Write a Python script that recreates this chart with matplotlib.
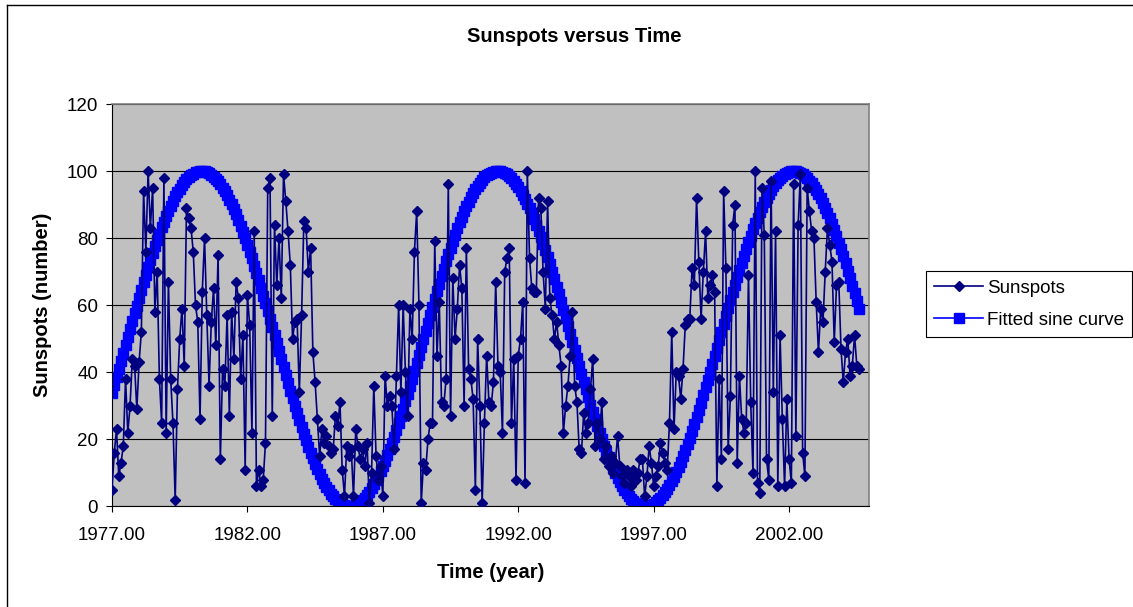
import numpy as np
import matplotlib.pyplot as plt
from matplotlib.lines import Line2D

# monthly sunspot readings starting Jan 1977
start_year = 1977.0
sunspots_1977 = [5, 16, 23, 9, 13, 18, 38, 22, 30, 44, 42, 29, 43, 52, 94, 76, 100, 83,
                 95, 58, 70, 38, 25, 98, 22, 67, 38, 25, 2, 35, 50, 59, 42, 89, 86, 83,
                 76, 60, 55, 26, 64, 80, 57, 36, 55, 65, 48, 75, 14, 41, 36, 57, 27, 58,
                 44, 67, 62, 38, 51, 11, 63, 54, 22, 82, 6]
sunspots_1982 = [11, 6, 8, 19, 95, 98, 27, 84, 66, 80, 62, 99, 91, 82, 72, 50, 55, 56,
                 34, 57, 85, 83, 70, 77, 46, 37, 26, 15, 23, 19, 21, 18, 16, 17, 27, 24,
                 31, 11, 3, 18, 15, 17, 3, 23, 18, 14, 17, 12, 19, 1, 10, 36, 15, 8, 12,
                 3, 39, 30, 33, 30, 17, 39, 60, 34]
sunspots_1987 = [60, 40, 27, 59, 50, 76, 88, 60, 1, 13, 11, 20, 25, 25, 79, 45, 61, 31,
                 30, 38, 96, 27, 68, 50, 59, 72, 65, 30, 77, 41, 38, 32, 5, 50, 30, 1,
                 25, 45, 31, 30, 37, 67, 42, 40, 22, 70, 74, 77, 25, 44, 8, 45, 50, 61,
                 7, 100, 74, 65, 64, 64, 92, 89, 70, 59, 91, 62]
sunspots_1993 = [57, 50, 55, 48, 42, 22, 30, 36, 45, 58, 36, 31, 17, 16, 28, 22, 25, 35,
                 44, 18, 25, 20, 31, 14, 18, 12, 15, 10, 13, 21, 12, 9, 7, 11, 9, 6, 11,
                 8, 10, 14, 14, 3, 9, 18, 13, 6, 9, 12, 19, 16, 13, 11, 25, 52, 23, 40,
                 39, 32, 41, 54, 56, 56, 71, 66, 92, 73]
sunspots_1998 = [56, 70, 82, 62, 66, 69, 64, 6, 38, 14, 94, 71, 17, 33, 84, 90, 13, 39,
                 26, 22, 25, 69, 31, 10, 100, 7, 4, 95, 81, 14, 8, 97, 34, 82, 6, 51, 26,
                 6, 32, 14, 7, 96, 21, 84, 99, 16, 9, 95, 88, 82, 80, 61, 46, 59, 55, 70,
                 83, 78, 73, 49, 66, 67, 47, 37, 46, 50, 39, 42, 51, 42, 41]
sunspots = sunspots_1977 + sunspots_1982 + sunspots_1987 + sunspots_1993 + sunspots_1998

# fitted sine curve parameters
fit_mean = 50.0
fit_amplitude = 50.0
fit_period = 10.93
fit_phase = 1977.57

tick_years = [1977, 1982, 1987, 1992, 1997, 2002]
y_ticks = [0, 20, 40, 60, 80, 100, 120]

years = start_year + np.arange(len(sunspots)) / 12.0
fitted = fit_mean + fit_amplitude * np.sin(2 * np.pi * (years - fit_phase) / fit_period)

plt.rcParams['font.family'] = ['Liberation Sans', 'DejaVu Sans']

W, H = 1133, 607
fig = plt.figure(figsize=(W / 100, H / 100), dpi=100)
ax = fig.add_axes([112 / W, 1 - 506.4 / H, (869 - 112) / W, (506.4 - 104) / H])
ax.set_facecolor('#c0c0c0')

fit_line, = ax.plot(years, fitted, color='#0000ff', lw=1.2, marker='s', ms=6.8,
                    zorder=2, label='Fitted sine curve')
spot_line, = ax.plot(years, sunspots, color='#000080', lw=1.2, marker='D', ms=4.8,
                     zorder=3, label='Sunspots')

ax.set_xlim(1977, 2004.95)
ax.set_ylim(0, 120)
ax.set_xticks(tick_years)
ax.set_xticklabels(['%.2f' % y for y in tick_years])
ax.set_yticks(y_ticks)
ax.yaxis.grid(True, color='black', lw=0.8)
ax.set_axisbelow(True)
for s in ['top', 'right']:
    ax.spines[s].set_color('#808080')
    ax.spines[s].set_linewidth(1.2)
for s in ['left', 'bottom']:
    ax.spines[s].set_color('black')
    ax.spines[s].set_linewidth(0.8)
ax.tick_params(axis='both', direction='out', length=4, width=0.8, labelsize=13.5)
ax.tick_params(axis='x', pad=11)
ax.tick_params(axis='y', pad=6)

fig.text(574 / W, 1 - 36 / H, 'Sunspots versus Time', ha='center', va='center',
         fontsize=14.5, fontweight='bold')
fig.text(491 / W, 1 - 572 / H, 'Time (year)', ha='center', va='center',
         fontsize=14.5, fontweight='bold')
fig.text(43 / W, 1 - 305 / H, 'Sunspots (number)', ha='center', va='center',
         rotation=90, fontsize=14.5, fontweight='bold')

leg = ax.legend([spot_line, fit_line], ['Sunspots', 'Fitted sine curve'],
                loc='upper left', bbox_to_anchor=(926 / W, 1 - 271 / H),
                bbox_transform=fig.transFigure, borderaxespad=0, fontsize=13.5,
                fancybox=False, framealpha=1, edgecolor='black', handlelength=2.6,
                handletextpad=0.2, borderpad=0.45, labelspacing=0.8)
leg.get_frame().set_linewidth(0.8)

# chart area border (left and top edges visible)
fig.add_artist(Line2D([7 / W, 7 / W], [0, 1 - 5 / H], transform=fig.transFigure,
                      color='black', lw=1))
fig.add_artist(Line2D([7 / W, 1], [1 - 5 / H, 1 - 5 / H], transform=fig.transFigure,
                      color='black', lw=1))

fig.savefig('out.png', dpi=100)
